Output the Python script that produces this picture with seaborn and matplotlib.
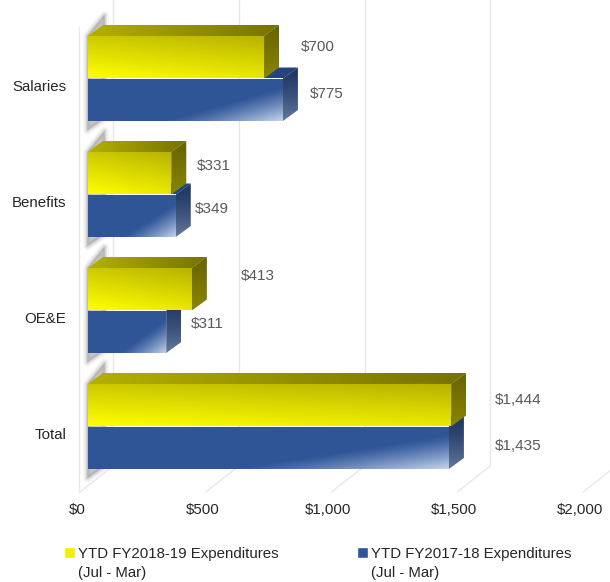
import numpy as np
import pandas as pd
import seaborn as sns
import matplotlib.pyplot as plt
from matplotlib.colors import to_rgb
from matplotlib.legend_handler import HandlerPatch
from matplotlib.patches import Polygon, Rectangle
from matplotlib.transforms import ScaledTranslation

categories = ['Salaries', 'Benefits', 'OE&E', 'Total']
fy1819 = [700, 331, 413, 1444]
fy1718 = [775, 349, 311, 1435]
series_names = ['YTD FY2018-19 Expenditures\n(Jul - Mar)', 'YTD FY2017-18 Expenditures\n(Jul - Mar)']
xticks = [0, 500, 1000, 1500, 2000]
xticklabels = ['$0', '$500', '$1,000', '$1,500', '$2,000']

# label offsets from the end of each front face, in px
label_dx = [[37, 26, 49, 44], [27, 19, 25, 46]]
label_dy = [[10.5, 7.5, 13.5, 5.5], [6, 6.5, 7.5, 1.5]]

W, H = 610, 582
sns.set_style('white')
plt.rcParams['font.family'] = ['Liberation Sans', 'DejaVu Sans']
plt.rcParams['font.size'] = 10.8

fig = plt.figure(figsize=(W / 100, H / 100), dpi=100)
# axes box in px: x 88-591, y 20.5-484.5
ax = fig.add_axes([88 / W, 1 - 484.5 / H, 503 / W, 464 / H])

df = pd.DataFrame({
    'category': categories * 2,
    'value': fy1819 + fy1718,
    'series': [series_names[0]] * 4 + [series_names[1]] * 4,
})
sns.barplot(data=df, x='value', y='category', hue='series', orient='h', width=0.733, gap=0,
            palette=['#f0f000', '#2f5597'], legend=False, ax=ax)
ax.set_xlim(0, 2000)
ax.set_ylim(3.5, -0.5)
ax.set_xlabel('')
ax.set_ylabel('')
sns.despine(ax=ax, left=True, bottom=True)

# px to data units
px = 2000 / 503
py = 4 / 464
DX, DY = 15 * px, -11 * py


def ramp(c0, c1, t):
    c0, c1 = np.array(to_rgb(c0)), np.array(to_rgb(c1))
    return c0 + (c1 - c0) * np.clip(t, 0, 1)[..., None]


def paint(xy, fn, z):
    # fill a polygon with a gradient, fn gets u (left-right) and v (top-bottom)
    xy = np.array(xy)
    x0, x1, y0, y1 = xy[:, 0].min(), xy[:, 0].max(), xy[:, 1].min(), xy[:, 1].max()
    v, u = np.mgrid[0:1:60j, 0:1:200j]
    im = ax.imshow(fn(u, v), extent=(x0, x1, y1, y0), aspect='auto', zorder=z,
                   interpolation='bilinear')
    im.set_clip_path(Polygon(xy, transform=ax.transData))


def yellow_front(u, v):
    return ramp('#ffff00', '#aaa400', 0.25 * u + 0.6 * (1 - v))


def yellow_top(u, v):
    return ramp('#b5b000', '#767200', u)


def yellow_side(u, v):
    return ramp('#666200', '#8a8600', v)


def blue_front(u, v):
    return ramp('#2f5597', '#c3d3ec', np.clip((u + 0.75 * v - 1.15) / 0.6, 0, 1) ** 1.2)


def blue_top(u, v):
    return ramp('#2f5597', '#24437c', u)


def blue_side(u, v):
    return ramp('#1f3864', '#64799c', v ** 1.5)


styles = [(yellow_front, yellow_top, yellow_side, 6), (blue_front, blue_top, blue_side, 3)]

# back wall, floor and left wall
for t in xticks:
    gx = t + 25 * px
    ax.plot([gx, gx], [-0.5 - 20.5 * py, 3.5 - 18.5 * py], color='#e8e8e8', lw=1, clip_on=False, zorder=1)
    ax.plot([t - 8 * px, gx], [3.5 + 7.5 * py, 3.5 - 18.5 * py], color='#e8e8e8', lw=1, clip_on=False, zorder=1)
ax.plot([-9 * px, -9 * px], [-0.5 + 6.5 * py, 3.5 + 7.5 * py], color='#e8e8e8', lw=1, clip_on=False, zorder=1)

# bars: faces, depth and shadow on the wall
for cont, (front, top, side, z), dxs, dys, vals in zip(ax.containers, styles, label_dx, label_dy, [fy1819, fy1718]):
    for bar, dx, dy, val in zip(cont, dxs, dys, vals):
        x1 = bar.get_width()
        y0, y1 = bar.get_y(), bar.get_y() + bar.get_height()
        bar.set_visible(False)
        paint([(0, y0), (x1, y0), (x1, y1), (0, y1)], front, z + 1)
        paint([(0, y0), (x1, y0), (x1 + DX, y0 + DY), (DX, y0 + DY)], top, z)
        paint([(x1, y0), (x1 + DX, y0 + DY), (x1 + DX, y1 + DY), (x1, y1)], side, z)
        ax.annotate(f'${val:,}', (x1, (y0 + y1) / 2), xytext=(dx * 0.72, dy * 0.72),
                    textcoords='offset points', va='center', ha='left', color='#595959',
                    annotation_clip=False, zorder=10, fontsize=11)

for i in range(len(categories)):
    top_y, bot_y = i - 0.3665, i + 0.3665
    shadow = [(-0.5 * px, top_y), (DX * 1.1, top_y + 1.9 * DY), (DX * 1.1, bot_y - 3 * py),
              (-0.5 * px, bot_y + 9 * py)]
    for lw, a in zip([6, 3.5, 1.5], [0.12, 0.18, 0.3]):
        ax.add_patch(Polygon(shadow, closed=True, fc='#9a9a9a', ec='#9a9a9a', lw=lw, alpha=a,
                             zorder=2, clip_on=False, joinstyle='round'))

# ticks
ax.set_xticks(xticks, xticklabels)
ax.tick_params(axis='x', length=0, pad=13.5, labelcolor='#262626')
ax.tick_params(axis='y', length=0, pad=15.5, labelcolor='#262626')
for lab in ax.get_xticklabels():
    lab.set_transform(lab.get_transform() + ScaledTranslation(-11 / 100, 0, fig.dpi_scale_trans))
for lab in ax.get_yticklabels():
    lab.set_transform(lab.get_transform() + ScaledTranslation(0, -7 / 100, fig.dpi_scale_trans))


def raised_swatch(legend, orig_handle, xdescent, ydescent, width, height, fontsize):
    return Rectangle((-xdescent, -ydescent + 8), width, height)


handles = [Rectangle((0, 0), 1, 1, fc='#f0f000'), Rectangle((0, 0), 1, 1, fc='#2f5597')]
leg = fig.legend(handles, series_names, ncols=2, loc='lower left', bbox_to_anchor=(50.5 / W, -11 / H), frameon=False,
                 handlelength=0.75, handleheight=0.75, handletextpad=0.2, columnspacing=5.2, labelspacing=0,
                 labelcolor='#262626',
                 handler_map={Rectangle: HandlerPatch(patch_func=raised_swatch)})
for txt in leg.get_texts():
    txt.set_linespacing(1.4)

fig.savefig('out.png', dpi=100)
